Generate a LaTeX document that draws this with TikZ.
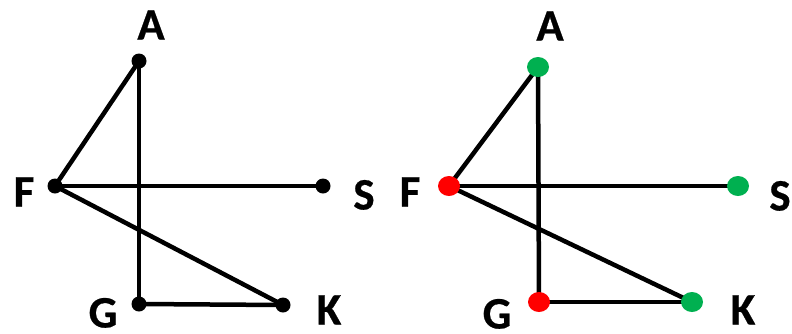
\documentclass[tikz,border=0pt]{standalone}
\usepackage{fontspec}
\setmainfont{Carlito}
\newfontfamily\labelfont[FakeBold=0.6]{Carlito Bold}
\usetikzlibrary{shapes.geometric}
\pgfdeclarelayer{background}
\pgfsetlayers{background,main}
\definecolor{vgreen}{HTML}{00B050}
\definecolor{vred}{HTML}{FF0000}
\tikzset{
  edge/.style={line width=4.5pt, black},
  blackdot/.style={circle, fill=black, inner sep=0pt, minimum size=15pt},
  greendot/.style={ellipse, fill=vgreen, inner sep=0pt, minimum width=22pt, minimum height=20pt},
  reddot/.style={ellipse, fill=vred, inner sep=0pt, minimum width=22pt, minimum height=20pt},
  lbl/.style={inner sep=0pt, text height=29pt, text depth=0pt, font=\fontsize{45}{48}\labelfont}
}
\begin{document}
\begin{tikzpicture}[x=1pt, y=-1pt]
  \useasboundingbox (0,0) rectangle (792,333);

  % left graph: plain vertices
  \node[blackdot] (a1) at (139,61) {};
  \node[blackdot] (f1) at (55,186) {};
  \node[blackdot] (s1) at (323,186) {};
  \node[blackdot] (g1) at (139,304) {};
  \node[blackdot] (k1) at (283,305) {};

  \node[lbl] (la1) at (151,25) {A};
  \node[lbl] (lf1) at (24,192) {F};
  \node[lbl] (ls1) at (364,195) {S};
  \node[lbl] (lg1) at (103,313) {G};
  \node[lbl] (lk1) at (329,310) {K};

  % right graph: coloured vertices
  \node[greendot] (a2) at (538,67) {};
  \node[reddot]   (f2) at (449,186) {};
  \node[greendot] (s2) at (738,186) {};
  \node[reddot]   (g2) at (539,302) {};
  \node[greendot] (k2) at (692,302) {};

  \node[lbl] (la2) at (550,26) {A};
  \node[lbl] (lf2) at (410,192) {F};
  \node[lbl] (ls2) at (780,196) {S};
  \node[lbl] (lg2) at (497,314) {G};
  \node[lbl] (lk2) at (743,310) {K};

  \begin{pgfonlayer}{background}
    \foreach \i in {1,2} {
      \draw[edge] (a\i.center) -- (f\i.center);
      \draw[edge] (a\i.center) -- (g\i.center);
      \draw[edge] (f\i.center) -- (s\i.center);
      \draw[edge] (f\i.center) -- (k\i.center);
      \draw[edge] (g\i.center) -- (k\i.center);
    }
  \end{pgfonlayer}
\end{tikzpicture}
\end{document}
